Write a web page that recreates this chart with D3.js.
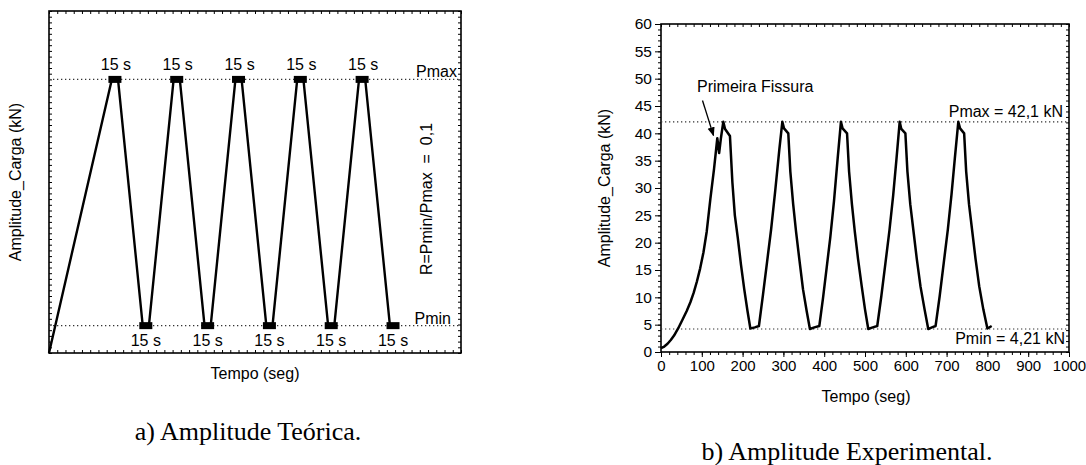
<!DOCTYPE html>
<html><head><meta charset="utf-8">
<script src="https://cdn.jsdelivr.net/npm/d3@7"></script>
<style>
body{margin:0;background:#fff}
svg text{font-family:"Liberation Sans",Arial,sans-serif;fill:#000}
</style>
</head><body>
<svg id="c" width="1086" height="465"></svg>
<script>
// ---------- data: (a) theoretical amplitude ----------
const theoTime = [0,152.5,167.5,227.5,242.5,302.5,317.5,377.5,392.5,452.5,467.5,527.5,542.5,602.5,617.5,677.5,692.5,752.5,767.5,827.5,842.5];
const theoLoad = [0,48,48,4.8,4.8,48,48,4.8,4.8,48,48,4.8,4.8,48,48,4.8,4.8,48,48,4.8,4.8];
const holdTopTime = [160,310,460,610,760];
const holdBottomTime = [235,385,535,685,835];
const holdLabel = "15 s";
const theoPmax = 48, theoPmin = 4.8;

// ---------- data: (b) experimental amplitude ----------
const expTime = [0,8,16,24,32,42,52,63,72,80,88,96,104,112,121,130,138,142.5,147,152.7,157,169,175,181,188,196,204,212,219,230,240,
  250,260,270,280,290,297.4,301.5,312,317,324,331,339,348,357,365,376,388,
  397,406,415,424,433,441,445,456,461,468,475,483,492,500,508,519,530,
  540,550,560,569,577,585,589,599,604,611,619,627,636,646,655,664,673,
  683,693,703,712,720,728.7,733,743,748,755,763,771,780,790,800,810.5];
const expLoad = [0.7,1.0,1.5,2.2,3.0,4.3,5.8,7.5,9.1,10.8,12.9,15.3,18.2,22,28,33.5,39.1,36.4,39.2,42.1,40.8,39.5,31,25,21,16,11.5,7.5,4.3,4.5,4.75,
  10.5,16.5,22.5,29.5,37,42.1,40.9,40.0,33,27,22,17,11.5,7.5,4.2,4.5,4.75,
  9.8,15.4,21,27.6,35.4,42.1,40.9,40.0,33,27,22,17,12,7.8,4.2,4.5,4.75,
  10.2,16.2,22.3,28.6,35.2,42.1,40.8,40.0,33,27,22,17,12,7.8,4.2,4.5,4.75,
  10.2,16.3,22.4,28.8,35.3,42.1,40.9,40.0,33,27,22,17,12,7.8,4.3,4.75];
const expPmax = 42.1, expPmin = 4.21;
const xTicksB = [0,100,200,300,400,500,600,700,800,900,1000];
const yTicksB = [0,5,10,15,20,25,30,35,40,45,50,55,60];

const svg = d3.select("#c");
const FS = "16px", TFS = "15px";

// ================= chart (a) =================
const xa = d3.scaleLinear().domain([0,1000]).range([49,461]);
const ya = d3.scaleLinear().domain([0,60]).range([353,11]);
const ga = svg.append("g");

const minorX = d3.range(0,1001,20), minorY = d3.range(0,61,1);
function tickAxis(g, axis, tr){ const a=g.append("g").attr("transform",tr).call(axis);
  a.select(".domain").remove(); a.selectAll("line").attr("stroke","#000").attr("stroke-width",1); return a; }
tickAxis(ga, d3.axisBottom(xa).tickValues(minorX).tickSize(-3).tickFormat(""), `translate(0,${ya(0)})`);
tickAxis(ga, d3.axisTop(xa).tickValues(minorX).tickSize(-3).tickFormat(""), `translate(0,${ya(60)})`);
tickAxis(ga, d3.axisLeft(ya).tickValues(minorY).tickSize(-3).tickFormat(""), `translate(${xa(0)},0)`);
tickAxis(ga, d3.axisRight(ya).tickValues(minorY).tickSize(-3).tickFormat(""), `translate(${xa(1000)},0)`);
ga.append("rect").attr("x",xa(0)).attr("y",ya(60)).attr("width",xa(1000)-xa(0)).attr("height",ya(0)-ya(60))
  .attr("fill","none").attr("stroke","#000").attr("stroke-width",1.6);

[theoPmax, theoPmin].forEach(v=>{
  ga.append("line").attr("x1",xa(0)).attr("x2",xa(1000)).attr("y1",ya(v)).attr("y2",ya(v))
    .attr("stroke","#333").attr("stroke-width",1.2).attr("stroke-dasharray","1.3,2.7");
});
ga.append("path").datum(theoTime.map((t,i)=>[t,theoLoad[i]]))
  .attr("d", d3.line().x(d=>xa(d[0])).y(d=>ya(d[1])))
  .attr("fill","none").attr("stroke","#000").attr("stroke-width",2.4).attr("stroke-linejoin","round");
holdTopTime.forEach(t=>{
  ga.append("rect").attr("x",xa(t)-6.5).attr("y",ya(theoPmax)-3.5).attr("width",13).attr("height",7).attr("fill","#000");
  ga.append("text").attr("x",xa(t)+1).attr("y",ya(theoPmax)-9).attr("text-anchor","middle").style("font-size",FS).text(holdLabel);
});
holdBottomTime.forEach(t=>{
  ga.append("rect").attr("x",xa(t)-6.5).attr("y",ya(theoPmin)-3.5).attr("width",13).attr("height",7).attr("fill","#000");
  ga.append("text").attr("x",xa(t)).attr("y",ya(theoPmin)+20.5).attr("text-anchor","middle").style("font-size",FS).text(holdLabel);
});
ga.append("text").attr("x",457).attr("y",77).attr("text-anchor","end").style("font-size",FS).text("Pmax");
ga.append("text").attr("x",451).attr("y",324).attr("text-anchor","end").style("font-size",FS).text("Pmin");
ga.append("text").attr("transform","translate(432,199) rotate(-90)").attr("text-anchor","middle")
  .style("font-size",FS).style("white-space","pre").text("R=Pmin/Pmax  =  0,1");
ga.append("text").attr("x",255).attr("y",379).attr("text-anchor","middle").style("font-size",FS).text("Tempo (seg)");
ga.append("text").attr("transform","translate(21,182) rotate(-90)").attr("text-anchor","middle").style("font-size",FS).text("Amplitude_Carga (kN)");
ga.append("text").attr("x",248).attr("y",440).attr("text-anchor","middle")
  .style("font-family","'Liberation Serif','Times New Roman',serif").style("font-size","26px").text("a) Amplitude Teórica.");

// ================= chart (b) =================
const xb = d3.scaleLinear().domain([0,1000]).range([661,1069]);
const yb = d3.scaleLinear().domain([0,60]).range([352,24]);
const gb = svg.append("g");

tickAxis(gb, d3.axisBottom(xb).tickValues(minorX).tickSize(3).tickFormat(""), `translate(0,${yb(0)})`);
tickAxis(gb, d3.axisLeft(yb).tickValues(minorY).tickSize(3).tickFormat(""), `translate(${xb(0)},0)`);
tickAxis(gb, d3.axisTop(xb).tickValues(minorX).tickSize(-3).tickFormat(""), `translate(0,${yb(60)})`);
tickAxis(gb, d3.axisRight(yb).tickValues(minorY).tickSize(-3).tickFormat(""), `translate(${xb(1000)},0)`);
const ax = gb.append("g").attr("transform",`translate(0,${yb(0)})`)
  .call(d3.axisBottom(xb).tickValues(xTicksB).tickSize(5).tickPadding(3).tickFormat(d3.format("d")));
ax.select(".domain").remove();
ax.selectAll("text").style("font-size",TFS).style("font-family","'Liberation Sans',Arial,sans-serif");
const ay = gb.append("g").attr("transform",`translate(${xb(0)},0)`)
  .call(d3.axisLeft(yb).tickValues(yTicksB).tickSize(6).tickPadding(3).tickFormat(d3.format("d")));
ay.select(".domain").remove();
ay.selectAll("text").style("font-size","15.5px").style("font-family","'Liberation Sans',Arial,sans-serif");
gb.selectAll(".tick line").attr("stroke","#000");
gb.append("rect").attr("x",xb(0)).attr("y",yb(60)).attr("width",xb(1000)-xb(0)).attr("height",yb(0)-yb(60))
  .attr("fill","none").attr("stroke","#000").attr("stroke-width",1.6);

[expPmax, expPmin].forEach(v=>{
  gb.append("line").attr("x1",xb(0)).attr("x2",xb(1000)).attr("y1",yb(v)).attr("y2",yb(v))
    .attr("stroke","#333").attr("stroke-width",1.2).attr("stroke-dasharray","1.3,2.7");
});
gb.append("path").datum(expTime.map((t,i)=>[t,expLoad[i]]))
  .attr("d", d3.line().x(d=>xb(d[0])).y(d=>yb(d[1])))
  .attr("fill","none").attr("stroke","#000").attr("stroke-width",2.5).attr("stroke-linejoin","round");

gb.append("text").attr("x",1063).attr("y",117).attr("text-anchor","end").style("font-size",FS).text("Pmax = 42,1 kN");
gb.append("text").attr("x",1065).attr("y",344).attr("text-anchor","end").style("font-size",FS).text("Pmin = 4,21 kN");
gb.append("text").attr("x",697).attr("y",91.5).style("font-size",FS).text("Primeira Fissura");
svg.append("defs").append("marker").attr("id","ah").attr("viewBox","0 0 10 10").attr("refX",9).attr("refY",5)
  .attr("markerWidth",7).attr("markerHeight",7).attr("orient","auto")
  .append("path").attr("d","M0,1L10,5L0,9Z").attr("fill","#000");
gb.append("line").attr("x1",702.5).attr("y1",100.5).attr("x2",713.5).attr("y2",135.5)
  .attr("stroke","#000").attr("stroke-width",1.3).attr("marker-end","url(#ah)");
gb.append("text").attr("x",866).attr("y",402).attr("text-anchor","middle").style("font-size",FS).text("Tempo (seg)");
gb.append("text").attr("transform","translate(610,188) rotate(-90)").attr("text-anchor","middle").style("font-size",FS).text("Amplitude_Carga (kN)");
gb.append("text").attr("x",847).attr("y",460).attr("text-anchor","middle")
  .style("font-family","'Liberation Serif','Times New Roman',serif").style("font-size","26px").text("b) Amplitude Experimental.");
</script>
</body></html>
